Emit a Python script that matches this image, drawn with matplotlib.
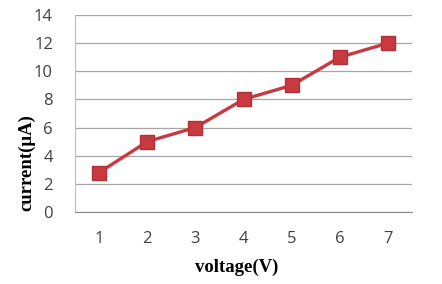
import matplotlib.pyplot as plt

voltage = [1, 2, 3, 4, 5, 6, 7]
current = [2.8, 5, 6, 8, 9, 11, 12]
yticks = [0, 2, 4, 6, 8, 10, 12, 14]

fig = plt.figure(figsize=(4.42, 2.84), dpi=100)
ax = fig.add_axes([0.170, 0.254, 0.762, 0.693])

ax.plot(voltage, current, color='#C83A40', linewidth=2.4, marker='s', markersize=9.5,
        markerfacecolor='#C83A40', markeredgecolor='#B03036', zorder=3)

ax.set_xlim(0.5, 7.5)
ax.set_ylim(0, 14)
ax.set_yticks(yticks)
ax.set_xticks(voltage)
ax.grid(axis='y', color='#A6A6A6', linewidth=0.9)
ax.set_axisbelow(True)
for s in ['top', 'right']:
    ax.spines[s].set_visible(False)
ax.spines['left'].set_color('#BFBFBF')
ax.spines['bottom'].set_color('#8C8C8C')
ax.tick_params(length=0, labelsize=12, labelcolor='#404040')
ax.tick_params(axis='x', pad=14)
ax.tick_params(axis='y', pad=16)
for lab in ax.get_xticklabels() + ax.get_yticklabels():
    lab.set_family('Open Sans')

ax.set_xlabel('voltage(V)', family='Liberation Serif', fontweight='bold', fontsize=13.5)
ax.set_ylabel('current(\u03bcA)', family='Liberation Serif', fontweight='bold', fontsize=13.5)
ax.xaxis.set_label_coords(0.48, -0.24)
ax.yaxis.set_label_coords(-0.118, 0.25)

fig.savefig('out.png', dpi=100)
